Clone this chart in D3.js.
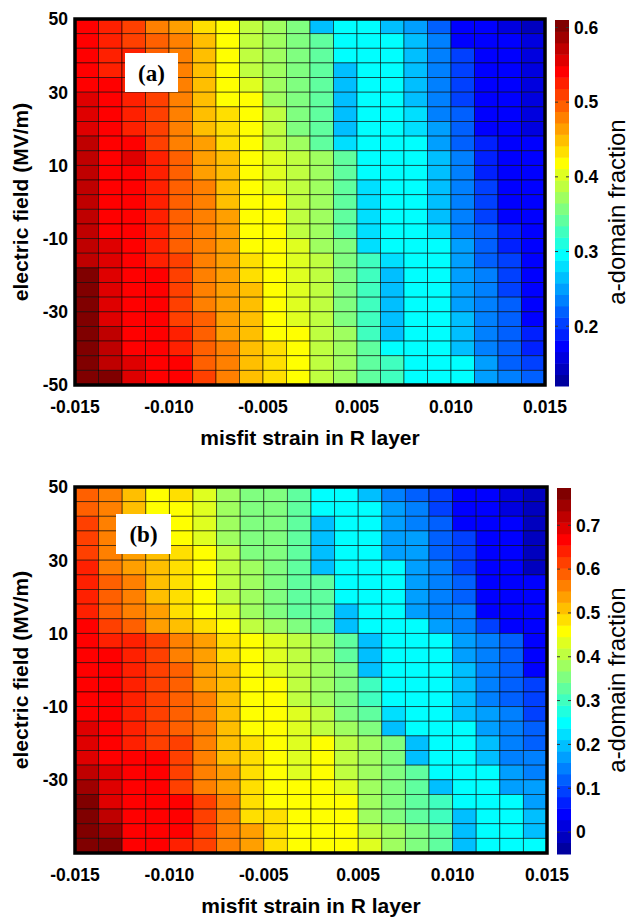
<!DOCTYPE html>
<html>
<head>
<meta charset="utf-8">
<script src="https://cdn.jsdelivr.net/npm/d3@7"></script>
<style>
  body { margin: 0; background: #fff; }
  svg { display: block; }
  text { font-family: "Liberation Sans", Arial, sans-serif; }
</style>
</head>
<body>
<svg id="chart" width="633" height="917"></svg>
<script>
// misfit strain (left edge of each cell) and electric field (top edge of each cell, MV/m)
const strainCells = [-0.015, -0.0135, -0.012, -0.0105, -0.009, -0.0075, -0.006, -0.0045, -0.003, -0.0015,
  0, 0.0015, 0.003, 0.0045, 0.006, 0.0075, 0.009, 0.0105, 0.012, 0.0135];
const fieldCells = [50, 46, 42, 38, 34, 30, 26, 22, 18, 14, 10, 6, 2, -2, -6, -10, -14, -18, -22, -26, -30, -34, -38, -42, -46];

const strainTickLabels = ['-0.015', '-0.010', '-0.005', '0.005', '0.010', '0.015'];
const fieldTicksA = [50, 30, 10, -10, -30, -50];
const fieldTicksB = [50, 30, 10, -10, -30];
const colorTicksA = [0.2, 0.3, 0.4, 0.5, 0.6];
const colorTicksB = [0, 0.1, 0.2, 0.3, 0.4, 0.5, 0.6, 0.7];
const colorRangeA = [0.120, 0.610];
const colorRangeB = [-0.05, 0.785];

// a-domain fraction, rows from E = 50 (top) down to E = -50, columns from strain -0.015 to 0.015
const fractionA = [
  [.54,.53,.51,.48,.46,.43,.42,.39,.37,.36,.27,.30,.30,.27,.25,.22,.17,.17,.16,.14],
  [.54,.53,.51,.50,.48,.45,.42,.39,.37,.36,.34,.30,.30,.30,.27,.23,.17,.17,.17,.16],
  [.54,.53,.53,.50,.48,.45,.42,.39,.37,.36,.34,.30,.30,.30,.27,.23,.20,.17,.17,.16],
  [.54,.53,.53,.50,.48,.45,.42,.39,.37,.36,.34,.27,.30,.30,.27,.23,.20,.17,.17,.16],
  [.54,.54,.53,.51,.48,.45,.42,.40,.37,.36,.34,.27,.30,.30,.27,.23,.20,.17,.17,.16],
  [.56,.54,.53,.51,.48,.45,.42,.42,.37,.36,.34,.27,.30,.30,.27,.23,.20,.17,.17,.16],
  [.56,.54,.53,.51,.48,.45,.43,.42,.39,.36,.34,.27,.30,.30,.28,.23,.22,.17,.17,.16],
  [.56,.54,.53,.51,.48,.45,.43,.42,.39,.36,.34,.27,.30,.30,.28,.25,.22,.17,.17,.16],
  [.57,.54,.54,.51,.48,.46,.43,.42,.39,.37,.34,.28,.30,.30,.30,.25,.22,.19,.17,.17],
  [.57,.54,.56,.53,.50,.46,.45,.42,.40,.39,.37,.34,.30,.30,.30,.27,.23,.19,.17,.17],
  [.57,.54,.54,.53,.50,.46,.45,.42,.40,.39,.37,.34,.30,.30,.30,.27,.23,.19,.17,.17],
  [.57,.54,.54,.53,.50,.48,.45,.42,.40,.39,.37,.34,.28,.30,.30,.27,.23,.20,.17,.17],
  [.57,.54,.54,.53,.50,.48,.45,.42,.42,.39,.37,.34,.28,.30,.30,.27,.23,.20,.17,.17],
  [.57,.54,.54,.53,.50,.48,.46,.42,.42,.39,.37,.34,.28,.30,.30,.27,.23,.20,.17,.17],
  [.57,.54,.54,.53,.50,.48,.46,.42,.42,.39,.37,.34,.28,.30,.30,.28,.23,.22,.19,.17],
  [.57,.56,.54,.53,.50,.48,.46,.42,.42,.40,.37,.36,.28,.30,.30,.30,.25,.22,.19,.17],
  [.57,.56,.54,.53,.51,.48,.46,.43,.42,.40,.39,.36,.33,.28,.30,.30,.25,.22,.20,.17],
  [.60,.56,.54,.54,.51,.48,.46,.43,.42,.40,.39,.36,.33,.27,.30,.30,.25,.23,.20,.17],
  [.60,.56,.54,.54,.51,.48,.46,.45,.42,.40,.39,.36,.33,.27,.30,.30,.25,.23,.20,.17],
  [.60,.56,.54,.54,.51,.48,.46,.45,.42,.40,.39,.36,.33,.27,.30,.30,.25,.23,.22,.17],
  [.60,.56,.54,.54,.51,.50,.46,.45,.42,.40,.39,.36,.33,.27,.30,.30,.27,.23,.22,.17],
  [.60,.57,.54,.54,.53,.50,.46,.45,.42,.42,.39,.37,.33,.27,.30,.30,.27,.23,.22,.19],
  [.60,.57,.54,.54,.53,.50,.48,.45,.43,.42,.39,.37,.34,.30,.30,.30,.27,.23,.22,.19],
  [.60,.57,.56,.54,.54,.50,.48,.45,.43,.42,.39,.37,.34,.33,.30,.30,.30,.25,.22,.20],
  [.60,.60,.56,.54,.54,.51,.48,.45,.43,.42,.39,.37,.34,.33,.30,.30,.30,.25,.23,.22]
];

const fractionB = [
  [.59,.56,.51,.46,.49,.43,.38,.36,.36,.33,.25,.25,.20,.15,.12,.09,.04,.04,.02,-.01],
  [.59,.56,.51,.46,.46,.43,.38,.36,.36,.33,.25,.25,.25,.17,.15,.09,.04,.04,.02,-.01],
  [.62,.56,.54,.51,.46,.43,.38,.36,.36,.33,.20,.25,.25,.17,.15,.12,.04,.04,.04,-.01],
  [.62,.56,.54,.51,.46,.43,.38,.36,.36,.33,.20,.25,.25,.17,.17,.12,.09,.04,.04,-.01],
  [.62,.56,.54,.51,.49,.46,.41,.36,.36,.33,.20,.25,.25,.17,.17,.12,.09,.04,.04,-.01],
  [.64,.56,.54,.51,.49,.46,.41,.38,.36,.33,.20,.25,.25,.25,.17,.15,.09,.04,.04,-.01],
  [.64,.59,.56,.51,.49,.46,.41,.38,.36,.33,.33,.25,.25,.25,.17,.15,.12,.04,.04,.04],
  [.64,.59,.56,.51,.49,.46,.41,.38,.36,.33,.33,.25,.25,.25,.17,.15,.12,.04,.04,.04],
  [.64,.59,.56,.54,.49,.46,.43,.38,.36,.33,.33,.20,.25,.25,.17,.15,.15,.04,.04,.04],
  [.67,.62,.59,.54,.51,.49,.46,.41,.38,.36,.33,.20,.25,.25,.25,.17,.15,.09,.04,.04],
  [.67,.64,.64,.62,.56,.54,.49,.46,.43,.41,.38,.33,.20,.25,.25,.25,.17,.15,.12,.04],
  [.67,.67,.64,.62,.56,.54,.49,.46,.43,.41,.38,.33,.20,.25,.25,.25,.17,.15,.12,.04],
  [.67,.67,.64,.62,.59,.54,.51,.46,.43,.41,.38,.36,.20,.25,.25,.25,.20,.15,.12,.04],
  [.67,.67,.64,.62,.59,.54,.51,.46,.46,.41,.38,.36,.30,.25,.25,.25,.20,.15,.12,.09],
  [.67,.67,.64,.62,.59,.56,.51,.46,.46,.41,.38,.36,.30,.25,.25,.25,.20,.15,.12,.09],
  [.67,.67,.64,.62,.59,.56,.51,.46,.46,.43,.41,.36,.33,.22,.25,.25,.20,.17,.15,.09],
  [.69,.67,.64,.62,.59,.56,.51,.46,.46,.43,.41,.38,.36,.20,.25,.25,.25,.17,.15,.12],
  [.69,.67,.64,.62,.62,.56,.51,.49,.46,.43,.46,.41,.38,.36,.20,.25,.25,.20,.15,.12],
  [.69,.67,.67,.67,.62,.56,.51,.49,.46,.43,.46,.41,.38,.36,.20,.25,.25,.20,.15,.15],
  [.72,.69,.67,.67,.62,.56,.54,.49,.46,.43,.46,.41,.38,.36,.33,.25,.25,.25,.17,.15],
  [.75,.69,.67,.67,.62,.56,.54,.49,.46,.46,.46,.43,.38,.36,.33,.20,.25,.25,.17,.17],
  [.77,.69,.67,.67,.67,.62,.56,.49,.46,.46,.46,.46,.38,.36,.33,.30,.25,.25,.25,.17],
  [.77,.72,.67,.67,.67,.62,.56,.49,.49,.46,.46,.46,.38,.36,.33,.30,.20,.25,.25,.20],
  [.77,.75,.67,.67,.67,.62,.56,.54,.49,.46,.46,.46,.41,.38,.36,.33,.20,.25,.25,.20],
  [.77,.77,.67,.67,.64,.62,.56,.54,.49,.46,.46,.46,.43,.38,.36,.33,.20,.25,.25,.25]
];

// MATLAB style jet(m) colormap
function jet(m) {
  const n = Math.ceil(m / 4);
  const u = [];
  for (let i = 1; i <= n; i++) u.push(i / n);
  for (let i = 1; i < n; i++) u.push(1);
  for (let i = n; i >= 1; i--) u.push(i / n);
  const off = Math.ceil(n / 2) - (m % 4 === 1 ? 1 : 0);
  const cols = d3.range(m).map(() => [0, 0, 0]);
  u.forEach((val, k) => {
    const g = off + k + 1, r = g + n, b = g - n;
    if (g >= 1 && g <= m) cols[g - 1][1] = val;
    if (r >= 1 && r <= m) cols[r - 1][0] = val;
    if (b >= 1 && b <= m) cols[b - 1][2] = val;
  });
  return cols.map(c => d3.rgb(c[0] * 255, c[1] * 255, c[2] * 255).formatHex());
}
const jet32 = jet(32);

const svg = d3.select('#chart');

function drawPanel(p) {
  const g = svg.append('g');

  const x = d3.scaleBand().domain(strainCells).range([p.left, p.right]).padding(0);
  const y = d3.scaleBand().domain(fieldCells).range([p.top, p.bottom]).padding(0);
  const yLin = d3.scaleLinear().domain([-50, 50]).range([p.bottom, p.top]);
  const xTick = d3.scalePoint().domain(strainTickLabels).range([p.left, p.right]);
  const color = d3.scaleQuantize().domain(p.range).range(jet32);

  const cells = [];
  p.data.forEach((row, i) => row.forEach((v, j) => cells.push({ s: strainCells[j], e: fieldCells[i], v })));

  g.append('g').selectAll('rect').data(cells).join('rect')
    .attr('x', d => x(d.s))
    .attr('y', d => y(d.e))
    .attr('width', x.bandwidth())
    .attr('height', y.bandwidth())
    .attr('fill', d => color(d.v))
    .attr('stroke', 'rgba(0,0,0,0.6)')
    .attr('stroke-width', 0.9);

  // frame
  g.append('rect')
    .attr('x', p.left).attr('y', p.top)
    .attr('width', p.right - p.left).attr('height', p.bottom - p.top)
    .attr('fill', 'none').attr('stroke', '#000').attr('stroke-width', 3.5);

  // panel tag
  g.append('rect')
    .attr('x', p.tag[0]).attr('y', p.tag[1]).attr('width', p.tag[2]).attr('height', p.tag[3])
    .attr('fill', '#fff');
  g.append('text')
    .attr('x', p.tag[0] + p.tag[2] / 2).attr('y', p.tag[1] + p.tag[3] / 2)
    .attr('dy', '0.35em').attr('text-anchor', 'middle')
    .style('font-family', '"Liberation Serif", "Times New Roman", serif')
    .style('font-weight', 'bold').style('font-size', '23px')
    .text(p.name);

  // y tick labels
  g.append('g').selectAll('text').data(p.yTicks).join('text')
    .attr('x', p.left - 7).attr('y', d => yLin(d)).attr('dy', '0.36em')
    .attr('text-anchor', 'end')
    .style('font-weight', 'bold').style('font-size', '17.5px')
    .text(d => d);

  // x tick labels
  g.append('g').selectAll('text').data(strainTickLabels).join('text')
    .attr('x', d => xTick(d)).attr('y', p.bottom + 22).attr('dy', '0.36em')
    .attr('text-anchor', 'middle')
    .style('font-weight', 'bold').style('font-size', '17.5px')
    .text(d => d);

  // axis titles
  g.append('text')
    .attr('x', (p.left + p.right) / 2).attr('y', p.bottom + 52).attr('dy', '0.36em')
    .attr('text-anchor', 'middle')
    .style('font-weight', 'bold').style('font-size', '21px')
    .text('misfit strain in R layer');
  g.append('text')
    .attr('transform', `translate(28,${(p.top + p.bottom) / 2}) rotate(-90)`)
    .attr('text-anchor', 'middle')
    .style('font-weight', 'bold').style('font-size', '21px')
    .text('electric field (MV/m)');

  // colorbar
  const cb = d3.scaleLinear().domain(p.range).range([p.bottom + 1, p.top + 1]);
  const cbX = p.right + 10, cbW = 14;
  g.append('g').selectAll('rect').data(jet32).join('rect')
    .attr('x', cbX)
    .attr('y', c => cb(color.invertExtent(c)[1]))
    .attr('width', cbW)
    .attr('height', c => cb(color.invertExtent(c)[0]) - cb(color.invertExtent(c)[1]) + 0.5)
    .attr('fill', c => c);
  const ct = g.append('g').selectAll('g').data(p.cTicks).join('g');
  ct.append('line').attr('x1', cbX).attr('x2', cbX + 3)
    .attr('y1', d => cb(d)).attr('y2', d => cb(d)).attr('stroke', '#333').attr('stroke-width', 1);
  ct.append('line').attr('x1', cbX + cbW - 3).attr('x2', cbX + cbW)
    .attr('y1', d => cb(d)).attr('y2', d => cb(d)).attr('stroke', '#333').attr('stroke-width', 1);
  ct.append('text')
    .attr('x', cbX + cbW + 5).attr('y', d => cb(d)).attr('dy', '0.36em')
    .style('font-weight', 'bold').style('font-size', '17.5px')
    .text(d => d === 0 ? '0' : d.toFixed(1));
  g.append('text')
    .attr('transform', `translate(625,${(p.top + p.bottom) / 2 + 10}) rotate(-90)`)
    .attr('text-anchor', 'middle')
    .style('font-size', '24px')
    .text('a-domain fraction');
}

drawPanel({ name: '(a)', data: fractionA, left: 75, right: 545, top: 19, bottom: 385,
  range: colorRangeA, yTicks: fieldTicksA, cTicks: colorTicksA, tag: [125, 53, 53, 39] });
drawPanel({ name: '(b)', data: fractionB, left: 75, right: 547, top: 487, bottom: 853,
  range: colorRangeB, yTicks: fieldTicksB, cTicks: colorTicksB, tag: [116, 514, 55, 40] });
</script>
</body>
</html>
